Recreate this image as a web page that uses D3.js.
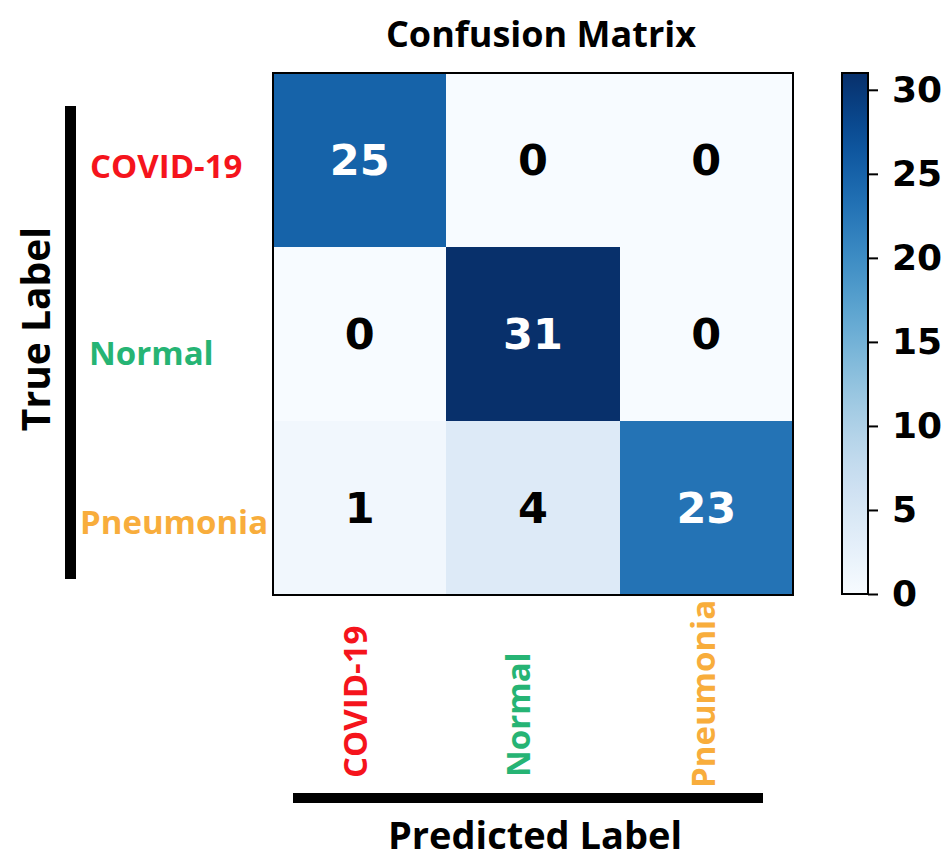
<!DOCTYPE html>
<html>
<head>
<meta charset="utf-8">
<script src="https://cdn.jsdelivr.net/npm/d3@7"></script>
<style>
  html, body { margin: 0; padding: 0; background: #fff; }
  svg { display: block; }
</style>
</head>
<body>
<svg id="chart" width="950" height="862"></svg>
<script>
// Class names (rows = true label, columns = predicted label)
const classes = ["COVID-19", "Normal", "Pneumonia"];
// Confusion-matrix counts, one array per true class
const rowCovid = [25, 0, 0];
const rowNormal = [0, 31, 0];
const rowPneumonia = [1, 4, 23];
const colorbarTicks = [0, 5, 10, 15, 20, 25, 30];
const colorMax = 31;

// Label colours per class
const classColors = ["#f5141c", "#26b474", "#f8ad3c"];

const matrix = [rowCovid, rowNormal, rowPneumonia];
const cells = [];
matrix.forEach((row, i) => row.forEach((v, j) => cells.push({ r: i, c: j, v })));

const svg = d3.select("#chart");
const plot = { left: 273, right: 793, top: 73, bottom: 595 };

const x = d3.scaleBand().domain(classes).range([plot.left, plot.right]);
const y = d3.scaleBand().domain(classes).range([plot.top, plot.bottom]);
const color = d3.scaleSequential(d3.interpolateBlues).domain([0, colorMax]);

const labelFont = "'Open Sans', sans-serif";
const numFont = "'DejaVu Sans', sans-serif";

// Title
svg.append("text")
  .attr("x", 541).attr("y", 47)
  .attr("text-anchor", "middle")
  .attr("font-family", labelFont).attr("font-weight", 700)
  .attr("font-size", 36).attr("fill", "#000")
  .text("Confusion Matrix");

// Heatmap cells
svg.append("g").selectAll("rect").data(cells).join("rect")
  .attr("x", d => x(classes[d.c]))
  .attr("y", d => y(classes[d.r]))
  .attr("width", x.bandwidth())
  .attr("height", y.bandwidth())
  .attr("fill", d => color(d.v))
  .attr("shape-rendering", "crispEdges");

// Cell counts
svg.append("g").selectAll("text").data(cells).join("text")
  .attr("x", d => x(classes[d.c]) + x.bandwidth() / 2)
  .attr("y", d => y(classes[d.r]) + y.bandwidth() / 2)
  .attr("dy", "0.36em")
  .attr("text-anchor", "middle")
  .attr("font-family", numFont).attr("font-weight", 700)
  .attr("font-size", 43)
  .attr("fill", d => d.v > colorMax / 2 ? "#fff" : "#000")
  .text(d => d.v);

// Frame around the matrix
svg.append("rect")
  .attr("x", plot.left).attr("y", plot.top)
  .attr("width", plot.right - plot.left).attr("height", plot.bottom - plot.top)
  .attr("fill", "none").attr("stroke", "#000").attr("stroke-width", 2);

// Row (true) labels, baseline offsets from each row's top edge
const rowNudge = [{ x: 90, dy: 105 }, { x: 89, dy: 118 }, { x: 80, dy: 113 }];
svg.append("g").selectAll("text").data(classes).join("text")
  .attr("x", (d, i) => rowNudge[i].x)
  .attr("y", (d, i) => y(d) + rowNudge[i].dy)
  .attr("font-family", labelFont).attr("font-weight", 700)
  .attr("font-size", 33)
  .attr("fill", (d, i) => classColors[i])
  .text(d => d);

// Column (predicted) labels, rotated
const colNudge = [{ dx: 7, y: 778 }, { dx: -3, y: 777 }, { dx: 9, y: 788 }];
svg.append("g").selectAll("text").data(classes).join("text")
  .attr("transform", (d, i) =>
    `translate(${x(d) + x.bandwidth() / 2 + colNudge[i].dx},${colNudge[i].y}) rotate(-90)`)
  .attr("font-family", labelFont).attr("font-weight", 700)
  .attr("font-size", 33)
  .attr("fill", (d, i) => classColors[i])
  .text(d => d);

// Axis bars
svg.append("rect").attr("x", 65).attr("y", 106).attr("width", 11).attr("height", 473).attr("fill", "#000");
svg.append("rect").attr("x", 293).attr("y", 793).attr("width", 470).attr("height", 10).attr("fill", "#000");

// Axis titles
svg.append("text")
  .attr("transform", "translate(50,329) rotate(-90)")
  .attr("text-anchor", "middle")
  .attr("font-family", labelFont).attr("font-weight", 700)
  .attr("font-size", 39).attr("fill", "#000")
  .text("True Label");

svg.append("text")
  .attr("x", 535).attr("y", 849)
  .attr("text-anchor", "middle")
  .attr("font-family", labelFont).attr("font-weight", 700)
  .attr("font-size", 38).attr("fill", "#000")
  .text("Predicted Label");

// Colorbar
const cb = { x: 842, w: 26, top: 73, bottom: 594 };
const cbScale = d3.scaleLinear().domain([0, colorMax]).range([cb.bottom, cb.top]);

const grad = svg.append("defs").append("linearGradient")
  .attr("id", "cbGrad").attr("x1", 0).attr("y1", 1).attr("x2", 0).attr("y2", 0);
d3.range(0, 1.0001, 0.05).forEach(t => {
  grad.append("stop").attr("offset", t).attr("stop-color", color(t * colorMax));
});

svg.append("rect")
  .attr("x", cb.x).attr("y", cb.top)
  .attr("width", cb.w).attr("height", cb.bottom - cb.top)
  .attr("fill", "url(#cbGrad)")
  .attr("stroke", "#000").attr("stroke-width", 2);

const cbAxis = svg.append("g")
  .attr("transform", `translate(${cb.x + cb.w},0)`)
  .call(d3.axisRight(cbScale).tickValues(colorbarTicks).tickSize(10).tickPadding(14));
cbAxis.select(".domain").remove();
cbAxis.selectAll(".tick line").attr("stroke", "#000").attr("stroke-width", 2);
cbAxis.selectAll(".tick text")
  .attr("font-family", numFont).attr("font-weight", 700)
  .attr("font-size", 36).attr("fill", "#000");
</script>
</body>
</html>
